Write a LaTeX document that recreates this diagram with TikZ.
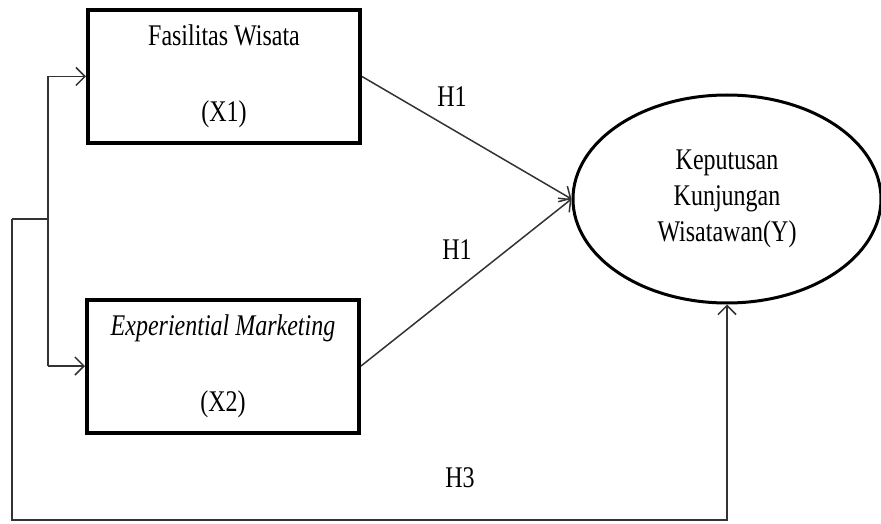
\documentclass[tikz,border=0pt]{standalone}
\usepackage{fontspec}
\setmainfont{Liberation Serif}[FakeStretch=0.8]
\usetikzlibrary{arrows.meta,shapes.geometric}

\tikzset{
  varbox/.style={draw, line width=4pt, minimum width=272pt, minimum height=133pt, align=center},
  varell/.style={draw, ellipse, line width=3pt, minimum width=308pt, minimum height=208pt, align=center},
  conn/.style={line width=1.5pt, draw=black!80},
  arr/.style={conn, -{Straight Barb[length=9pt,width=18pt,line width=1.5pt]}},
  hlabel/.style={}
}

\begin{document}
\begin{tikzpicture}[x=1pt, y=-1pt, font=\fontsize{30}{36}\selectfont]
                    \useasboundingbox (0,0) rectangle (881,524);
                    % Variables
                    \node[varbox] (fas) at (224,76.5) {Fasilitas Wisata\\[40pt](X1)};
                    \node[varbox] (exp) at (223,366) {\textit{Experiential Marketing}\\[40pt](X2)};
                    \node[varell] (kep) at (727,199) {Keputusan\\Kunjungan\\Wisatawan(Y)};
                    % Branch points
                    \coordinate (jl) at (12,219);
                    \coordinate (jr) at (48,219);
                    \coordinate (jt) at (48,76.5);
                    \coordinate (jb) at (48,366);
                    \coordinate (bl) at (12,520);
                    \draw[conn] (jl) -- (jr);
                    \draw[conn] (jt) -- (jb);
                    \draw[arr] (jt) -- (fas.west);
                    \draw[arr] (jb) -- (exp.west);
                    \draw[arr] (jl) -- (bl) -| (kep.south);
                    % Hypotheses
                    \draw[arr] (fas.east) -- (kep.west);
                    \draw[arr] (exp.east) -- (kep.west);
                    \node[hlabel] (h1a) at (452,97) {H1};
                    \node[hlabel] (h1b) at (457,250) {H1};
                    \node[hlabel] (h3) at (460,478) {H3};
                \end{tikzpicture}
\end{document}
